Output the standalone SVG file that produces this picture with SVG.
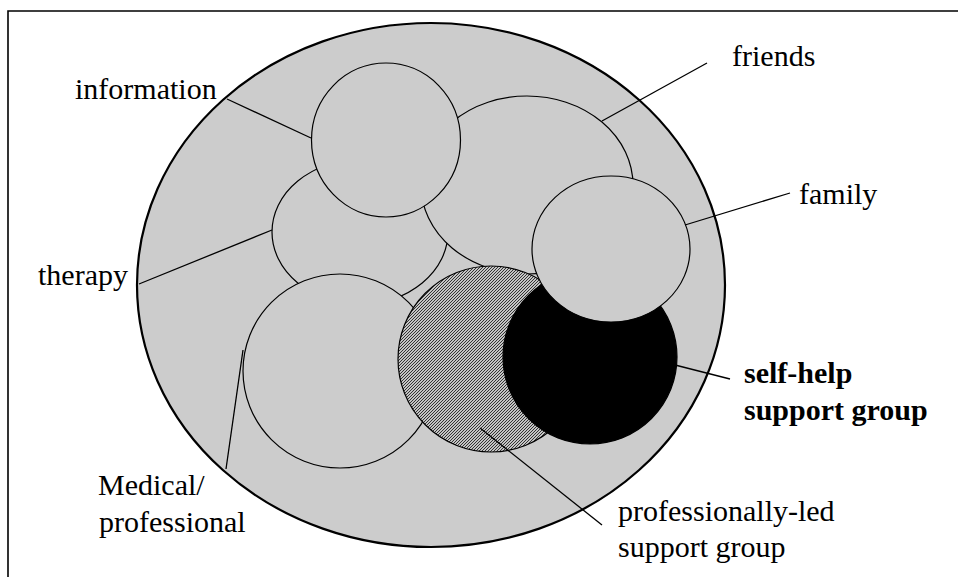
<svg xmlns="http://www.w3.org/2000/svg" width="958" height="577" viewBox="0 0 958 577">
<style>
.lbl{font-family:"Liberation Serif","Times New Roman",serif;font-size:30px;fill:#000}
.b{font-weight:bold}
.c{fill:#cccccc;stroke:#000;stroke-width:1.2}
.ln{stroke:#000;stroke-width:1.3;fill:none}
</style>
<defs>
<pattern id="hatch" patternUnits="userSpaceOnUse" width="3" height="3">
<rect width="3" height="3" fill="#c4c4c4"/>
<path d="M-1,1 L1,-1 M0,3 L3,0 M2,4 L4,2" stroke="#333" stroke-width="1"/>
</pattern>
</defs>
<rect width="958" height="577" fill="#fff"/>
<path d="M8,577 V11 H958" fill="none" stroke="#000" stroke-width="1.6"/>
<g id="outer"><ellipse cx="431" cy="285" rx="294" ry="262" fill="#cccccc" stroke="#000" stroke-width="2.2"/></g>
<g id="therapy"><ellipse class="c" cx="360" cy="232" rx="88" ry="72"/></g>
<g id="friends"><ellipse class="c" cx="527" cy="185" rx="106" ry="89"/></g>
<g id="information"><ellipse class="c" cx="386" cy="140" rx="74.5" ry="77"/></g>
<g id="medical"><circle class="c" cx="340" cy="371" r="97"/></g>
<g id="professional-group"><circle cx="491" cy="359" r="93" fill="url(#hatch)" stroke="#000" stroke-width="1.2"/></g>
<g id="selfhelp"><circle cx="590" cy="357" r="87" fill="#000" stroke="#000" stroke-width="1.2"/></g>
<g id="family"><ellipse class="c" cx="611" cy="249" rx="79" ry="73"/></g>
<g id="connectors">
<line class="ln" x1="227" y1="99" x2="311" y2="138"/>
<line class="ln" x1="139" y1="284" x2="272" y2="230"/>
<line class="ln" x1="226" y1="469" x2="243" y2="350"/>
<line class="ln" x1="602" y1="121" x2="707" y2="63"/>
<line class="ln" x1="685" y1="225" x2="790" y2="193"/>
<line class="ln" x1="675" y1="365" x2="730" y2="379"/>
<line class="ln" x1="480" y1="428" x2="602" y2="525"/>
</g>
<g id="labels">
<text class="lbl" x="75" y="99">information</text>
<text class="lbl" x="38" y="285">therapy</text>
<text class="lbl" x="98" y="495">Medical/</text>
<text class="lbl" x="99" y="532">professional</text>
<text class="lbl" x="732" y="66">friends</text>
<text class="lbl" x="799" y="204">family</text>
<text class="lbl b" x="744" y="383">self-help</text>
<text class="lbl b" x="744" y="420">support group</text>
<text class="lbl" x="618" y="521">professionally-led</text>
<text class="lbl" x="618" y="557">support group</text>
</g>
</svg>
